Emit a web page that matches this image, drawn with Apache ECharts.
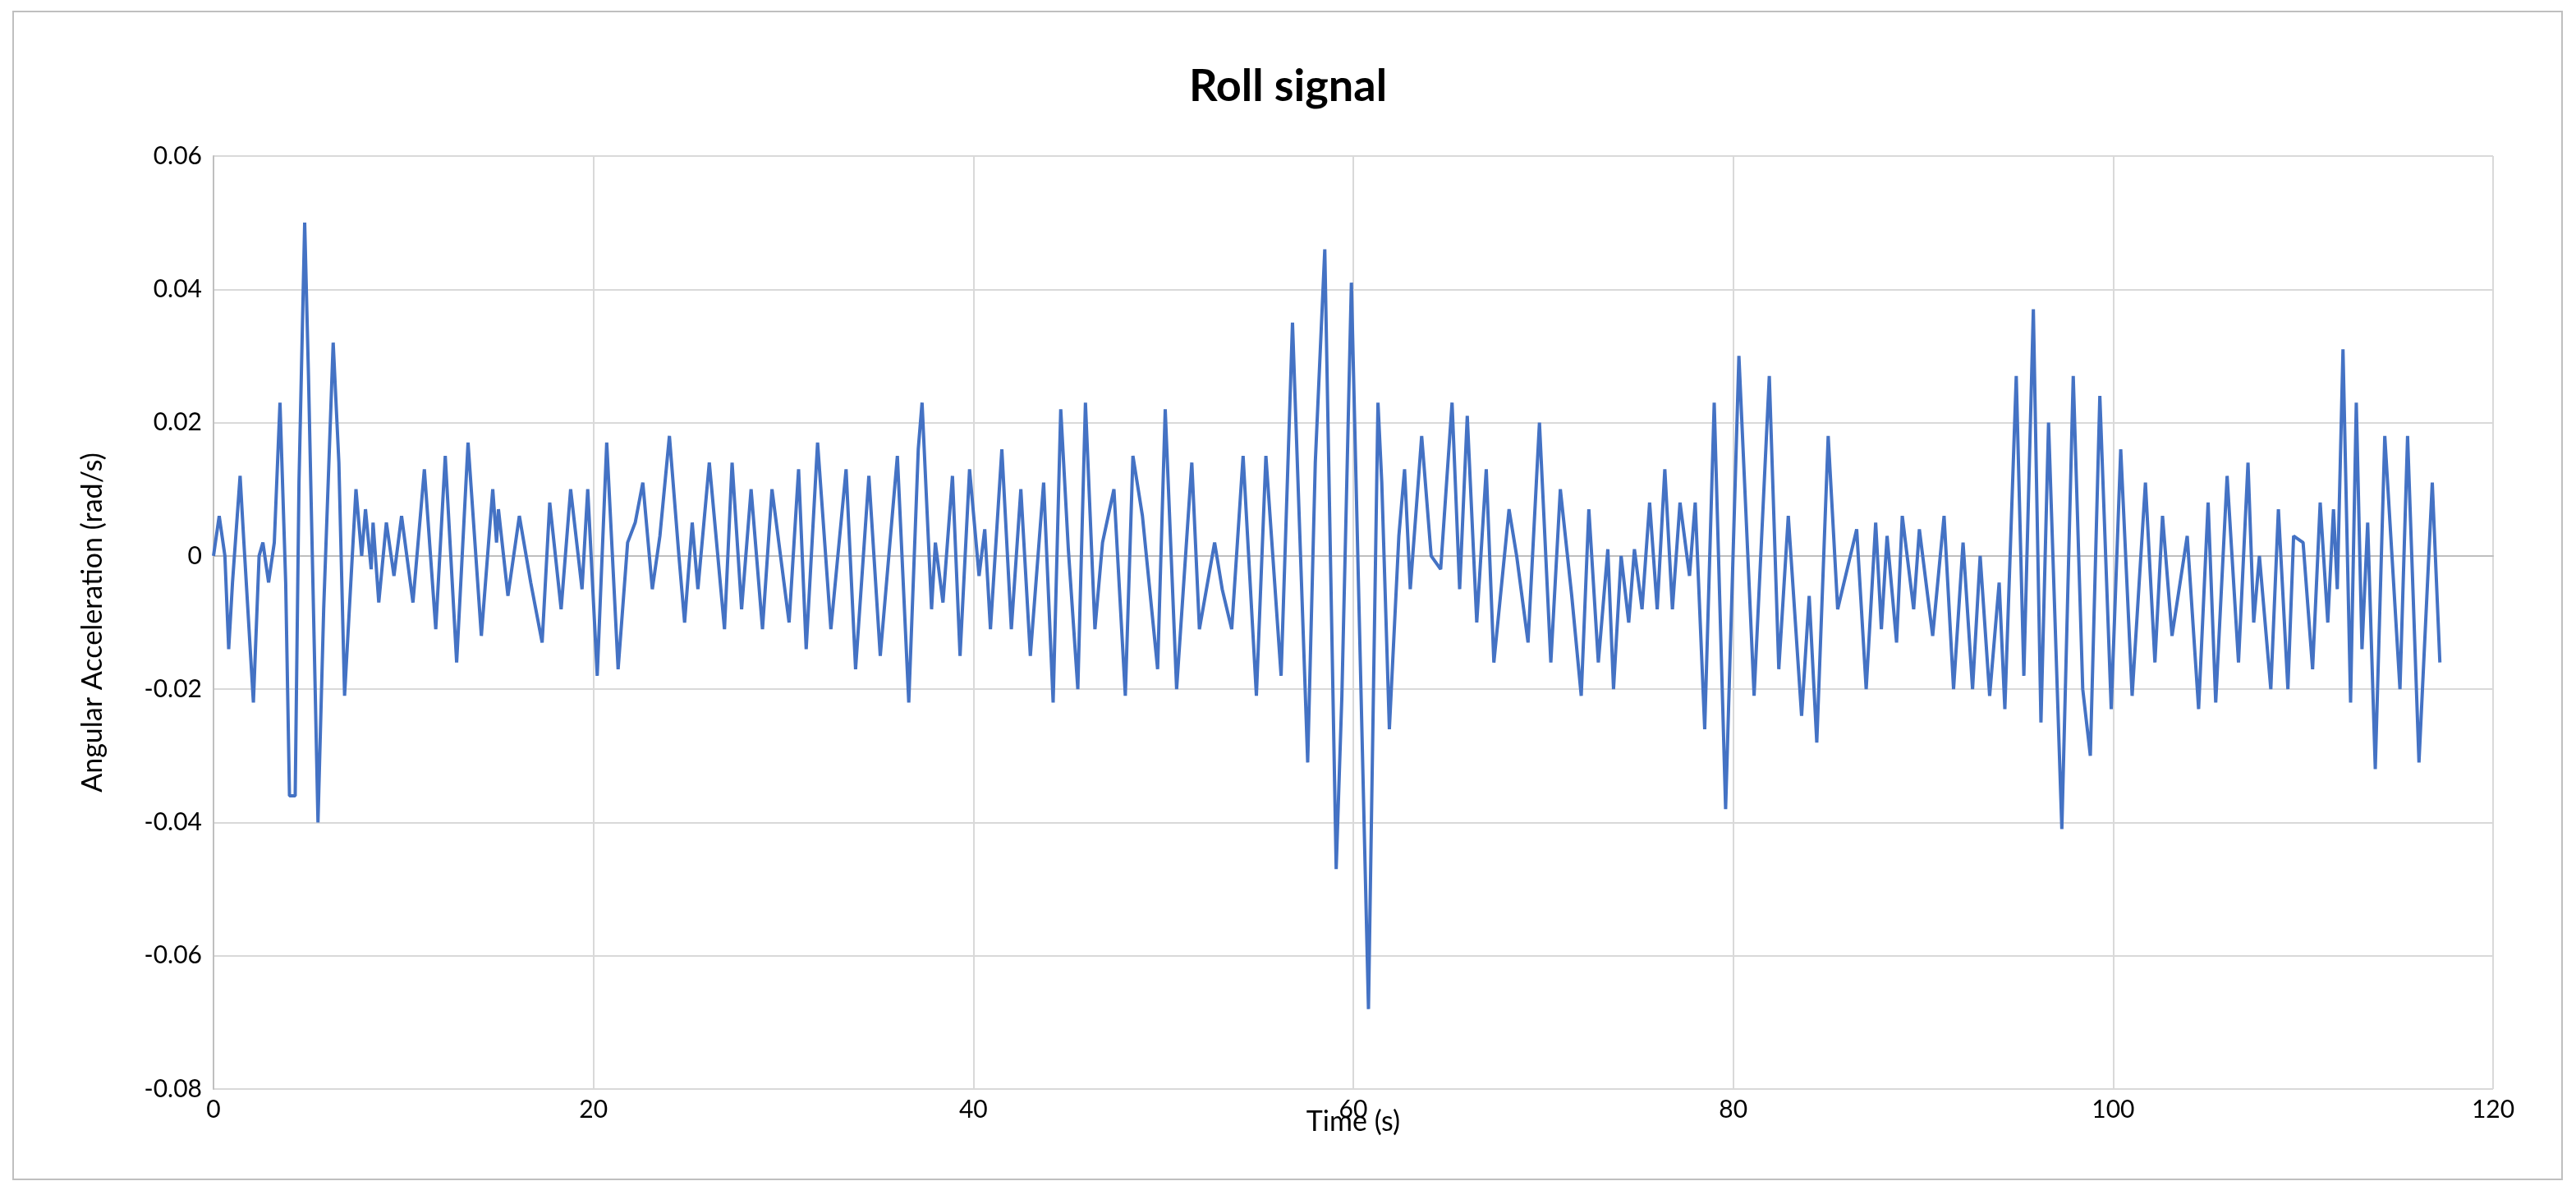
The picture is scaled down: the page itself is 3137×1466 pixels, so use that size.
<!DOCTYPE html>
<html>
<head>
<meta charset="utf-8">
<script src="https://cdn.jsdelivr.net/npm/echarts@6/dist/echarts.min.js"></script>
<style>
  html, body { margin: 0; padding: 0; background: #fff; }
  #chart { width: 3137px; height: 1466px; }
</style>
</head>
<body>
<div id="chart"></div>
<script>
// time (s) of each turning point
const times = [
  0, 0.3, 0.6, 0.8, 1.0, 1.4, 1.6, 2.1, 2.4, 2.6, 2.9, 3.2, 3.5, 3.8, 4.0, 4.3, 4.5, 4.8, 5.0, 5.3,
  5.5, 5.8, 6.3, 6.6, 6.9, 7.5, 7.8, 8.0, 8.3, 8.4, 8.7, 9.1, 9.5, 9.9, 10.5, 11.1, 11.7, 12.2, 12.8, 13.4,
  14.1, 14.7, 14.9, 15.0, 15.5, 16.1, 16.7, 17.3, 17.7, 18.3, 18.8, 19.4, 19.7, 20.2, 20.7, 21.3, 21.8, 22.2, 22.6, 23.1,
  23.5, 24.0, 24.5, 24.8, 25.2, 25.5, 26.1, 26.9, 27.3, 27.8, 28.3, 28.9, 29.4, 30.3, 30.8, 31.2, 31.8, 32.5, 33.3, 33.8,
  34.5, 35.1, 36.0, 36.6, 37.1, 37.3, 37.8, 38.0, 38.4, 38.9, 39.3, 39.8, 40.3, 40.6, 40.9, 41.5, 42.0, 42.5, 43.0, 43.7,
  44.2, 44.6, 45.0, 45.5, 45.9, 46.4, 46.8, 47.4, 48.0, 48.4, 48.9, 49.7, 50.1, 50.7, 51.5, 51.9, 52.7, 53.1, 53.6, 54.2,
  54.9, 55.4, 56.2, 56.8, 57.6, 58.0, 58.5, 59.1, 59.4, 59.9, 60.8, 61.3, 61.5, 61.9, 62.4, 62.7, 63.0, 63.6, 64.1, 64.6,
  65.2, 65.6, 66.0, 66.5, 67.0, 67.4, 68.2, 68.6, 69.2, 69.8, 70.4, 70.9, 71.5, 72.0, 72.4, 72.9, 73.4, 73.7, 74.1, 74.5,
  74.8, 75.2, 75.6, 76.0, 76.4, 76.8, 77.2, 77.7, 78.0, 78.5, 79.0, 79.6, 80.3, 81.1, 81.9, 82.4, 82.9, 83.6, 84.0, 84.4,
  85.0, 85.5, 86.5, 87.0, 87.5, 87.8, 88.1, 88.6, 88.9, 89.5, 89.8, 90.5, 91.1, 91.6, 92.1, 92.6, 93.0, 93.5, 94.0, 94.3,
  94.9, 95.3, 95.8, 96.2, 96.6, 97.3, 97.9, 98.4, 98.8, 99.3, 99.9, 100.4, 101.0, 101.7, 102.2, 102.6, 103.1, 103.9, 104.5, 105.0,
  105.4, 106.0, 106.6, 107.1, 107.4, 107.7, 108.3, 108.7, 109.2, 109.5, 110.0, 110.5, 110.9, 111.3, 111.6, 111.8, 112.1, 112.5, 112.8, 113.1,
  113.4, 113.8, 114.3, 115.1, 115.5, 116.1, 116.8, 117.2
];

// angular acceleration (rad/s) at those points
const rollValues = [
  0, 0.006, 0, -0.014, -0.004, 0.012, 0.002, -0.022, 0, 0.002, -0.004, 0.002, 0.023, -0.004, -0.036, -0.036, 0.011, 0.05, 0.027, -0.013,
  -0.04, -0.008, 0.032, 0.014, -0.021, 0.01, 0, 0.007, -0.002, 0.005, -0.007, 0.005, -0.003, 0.006, -0.007, 0.013, -0.011, 0.015, -0.016, 0.017,
  -0.012, 0.01, 0.002, 0.007, -0.006, 0.006, -0.004, -0.013, 0.008, -0.008, 0.01, -0.005, 0.01, -0.018, 0.017, -0.017, 0.002, 0.005, 0.011, -0.005,
  0.003, 0.018, 0, -0.01, 0.005, -0.005, 0.014, -0.011, 0.014, -0.008, 0.01, -0.011, 0.01, -0.01, 0.013, -0.014, 0.017, -0.011, 0.013, -0.017,
  0.012, -0.015, 0.015, -0.022, 0.016, 0.023, -0.008, 0.002, -0.007, 0.012, -0.015, 0.013, -0.003, 0.004, -0.011, 0.016, -0.011, 0.01, -0.015, 0.011,
  -0.022, 0.022, 0.001, -0.02, 0.023, -0.011, 0.002, 0.01, -0.021, 0.015, 0.006, -0.017, 0.022, -0.02, 0.014, -0.011, 0.002, -0.005, -0.011, 0.015,
  -0.021, 0.015, -0.018, 0.035, -0.031, 0.014, 0.046, -0.047, -0.021, 0.041, -0.068, 0.023, 0.011, -0.026, 0.003, 0.013, -0.005, 0.018, 0, -0.002,
  0.023, -0.005, 0.021, -0.01, 0.013, -0.016, 0.007, 0, -0.013, 0.02, -0.016, 0.01, -0.006, -0.021, 0.007, -0.016, 0.001, -0.02, 0, -0.01,
  0.001, -0.008, 0.008, -0.008, 0.013, -0.008, 0.008, -0.003, 0.008, -0.026, 0.023, -0.038, 0.03, -0.021, 0.027, -0.017, 0.006, -0.024, -0.006, -0.028,
  0.018, -0.008, 0.004, -0.02, 0.005, -0.011, 0.003, -0.013, 0.006, -0.008, 0.004, -0.012, 0.006, -0.02, 0.002, -0.02, 0, -0.021, -0.004, -0.023,
  0.027, -0.018, 0.037, -0.025, 0.02, -0.041, 0.027, -0.02, -0.03, 0.024, -0.023, 0.016, -0.021, 0.011, -0.016, 0.006, -0.012, 0.003, -0.023, 0.008,
  -0.022, 0.012, -0.016, 0.014, -0.01, 0, -0.02, 0.007, -0.02, 0.003, 0.002, -0.017, 0.008, -0.01, 0.007, -0.005, 0.031, -0.022, 0.023, -0.014,
  0.005, -0.032, 0.018, -0.02, 0.018, -0.031, 0.011, -0.016
];

const FONT = 'Lato, "Open Sans", sans-serif';

const chart = echarts.init(document.getElementById('chart'));

const option = {
    backgroundColor: '#fff',
    animation: false,
    title: {
        text: 'Roll signal',
        left: 'center',
        top: 74,
        textStyle: { fontFamily: FONT, fontSize: 54, fontWeight: 'bold', color: '#000' }
    },
    graphic: [
        {
            type: 'rect',
            shape: { x: 16, y: 14, width: 3104, height: 1422 },
            style: { fill: 'none', stroke: '#bfbfbf', lineWidth: 2 }
        },
        {
            type: 'text',
            x: 1648,
            y: 1366,
            style: {
                text: 'Time (s)', fontFamily: FONT, fontSize: 34,
                fill: '#000', textAlign: 'center', textVerticalAlign: 'middle'
            }
        }
    ],
    grid: { left: 260, right: 101, top: 190, bottom: 140 },
    xAxis: {
        type: 'value',
        min: 0,
        max: 120,
        interval: 20,
        axisLine: { onZero: true, lineStyle: { color: '#bfbfbf', width: 2 } },
        axisTick: { show: false },
        axisLabel: { fontFamily: FONT, fontSize: 30, color: '#000', margin: 10 },
        splitLine: { show: true, lineStyle: { color: '#d9d9d9', width: 2 } }
    },
    yAxis: {
        type: 'value',
        min: -0.08,
        max: 0.06,
        interval: 0.02,
        name: 'Angular Acceleration (rad/s)',
        nameLocation: 'middle',
        nameGap: 130,
        nameTextStyle: { fontFamily: FONT, fontSize: 34, color: '#000' },
        axisLine: { show: true, lineStyle: { color: '#bfbfbf', width: 2 } },
        axisTick: { show: false },
        axisLabel: {
            fontFamily: FONT, fontSize: 30, color: '#000', margin: 14,
            formatter: v => (Math.abs(v) < 1e-9 ? '0' : v.toFixed(2))
        },
        splitLine: { show: true, lineStyle: { color: '#d9d9d9', width: 2 } }
    },
    series: [
        {
            name: 'Roll',
            type: 'line',
            data: times.map((t, i) => [t, rollValues[i]]),
            showSymbol: false,
            lineStyle: { color: '#4472C4', width: 4 },
            itemStyle: { color: '#4472C4' }
        }
    ]
};

chart.setOption(option);
</script>
</body>
</html>
